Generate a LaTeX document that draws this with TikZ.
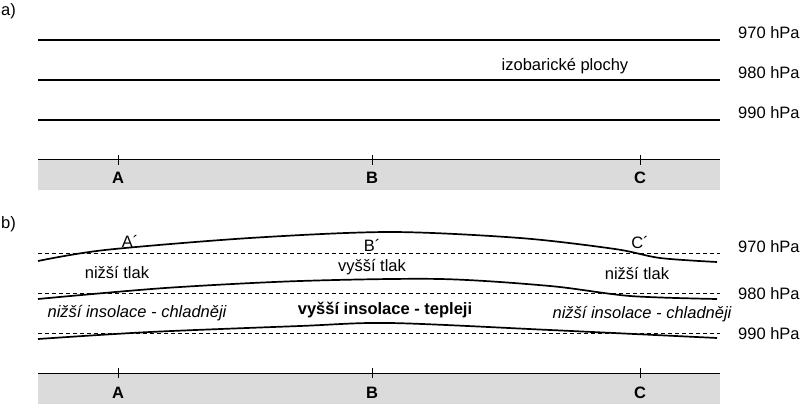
\documentclass[tikz,border=0pt]{standalone}
\usepackage{fontspec}
\setmainfont{Liberation Sans}
\begin{document}
\begin{tikzpicture}[
    x=1pt, y=-1pt,
    isobar/.style={line width=1.7pt},
    refline/.style={line width=0.7pt, dash pattern=on 4pt off 3pt},
    ground/.style={fill=black!14, draw=none},
    txt/.style={font=\fontsize{16.5}{19}\selectfont, inner sep=0pt},
    hpa/.style={txt, anchor=west},
    pt/.style={txt, font=\fontsize{16.5}{19}\selectfont\bfseries}
]
    \useasboundingbox (0,0) rectangle (812,409);

    % Part a
    \node[txt, anchor=west] (lbla) at (1,11) {a)};
    \foreach \y/\p in {40/970, 80/980, 120/990} {
        \draw[isobar] (38,\y) -- (720,\y);
        \node[hpa] (a\p) at (738,\y-7) {\p{} hPa};
    }
    \node[txt] (plochy) at (565,66) {izobarické plochy};

    % Ground a
    \fill[ground] (38,160) rectangle (720,190);
    \draw[line width=1pt] (38,160) -- (720,160);
    \foreach \x/\n in {118/A, 372/B, 640/C} {
        \draw[line width=1pt] (\x,155) -- (\x,165);
        \node[pt] (a\n) at (\x,178) {\n};
    }

    % Part b
    \node[txt, anchor=west] (lblb) at (1,224) {b)};
    \foreach \y in {253, 293, 333}
        \draw[refline] (38,\y) -- (720,\y);
    \draw[isobar] plot[smooth, tension=0.5] coordinates
        {(38,261) (105,250) (250,238) (390,232) (520,238) (615,249) (660,258) (717,262)};
    \draw[isobar] plot[smooth, tension=0.5] coordinates
        {(38,299) (165,288) (300,281) (440,279) (550,286) (630,296) (717,299)};
    \draw[isobar] plot[smooth, tension=0.5] coordinates
        {(38,339) (150,332) (300,326) (390,323) (550,330) (717,338)};
    \node[hpa] (b970) at (738,247) {970 hPa};
    \node[hpa] (b980) at (738,294) {980 hPa};
    \node[hpa] (b990) at (738,334) {990 hPa};

    % Labels b
    \node[txt] (Ap) at (130,241) {A´};
    \node[txt] (Bp) at (372,245) {B´};
    \node[txt] (Cp) at (640,243) {C´};
    \node[txt] (tlakA) at (117,273) {nižší tlak};
    \node[txt] (tlakB) at (372,267) {vyšší tlak};
    \node[txt] (tlakC) at (637,274) {nižší tlak};
    \node[txt, font=\fontsize{16.5}{19}\selectfont\itshape] (insA) at (137,313) {nižší insolace - chladněji};
    \node[txt, font=\fontsize{16.5}{19}\selectfont\bfseries] (insB) at (385,310) {vyšší insolace - tepleji};
    \node[txt, font=\fontsize{16.5}{19}\selectfont\itshape] (insC) at (642,314) {nižší insolace - chladněji};

    % Ground b
    \fill[ground] (38,373) rectangle (720,404);
    \draw[line width=1pt] (38,373) -- (720,373);
    \foreach \x/\n in {118/A, 372/B, 640/C} {
        \draw[line width=1pt] (\x,368) -- (\x,378);
        \node[pt] (b\n) at (\x,393) {\n};
    }
\end{tikzpicture}
\end{document}
